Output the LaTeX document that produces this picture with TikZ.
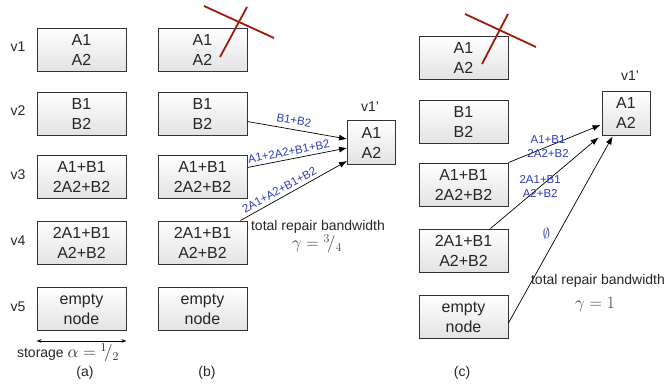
\documentclass[tikz,border=0pt]{standalone}
\usepackage[no-math]{fontspec}
\setmainfont{Liberation Sans}
\usetikzlibrary{calc,arrows.meta}
\definecolor{edgeblue}{HTML}{2B3DB5}
\definecolor{crossred}{HTML}{9E1B0C}
\definecolor{boxline}{HTML}{333333}
\tikzset{
  box/.style={draw=boxline, line width=0.9pt, top color=white, bottom color=black!11,
    minimum width=89pt, minimum height=43pt, inner sep=0pt, align=center,
    font=\fontsize{16}{20}\selectfont, text=black!85},
  newbox/.style={box, minimum width=48pt, minimum height=44pt},
  vlabel/.style={font=\fontsize{14}{16}\selectfont, text=black!85},
  elabel/.style={font=\fontsize{11.5}{14}\selectfont, text=edgeblue, inner sep=1pt},
  conn/.style={-{Latex[length=8pt,width=6pt]}, line width=0.7pt},
  crossline/.style={draw=crossred, line width=1.8pt},
  caption/.style={font=\fontsize{14}{16}\selectfont, text=black!85},
  mathbig/.style={font=\fontsize{17.28}{20}\selectfont, text=black!75},
}
\begin{document}
\begin{tikzpicture}[x=1pt,y=-1pt]
\useasboundingbox (0,0) rectangle (668,385);

% column (a)
\node[box] (v1a) at (81.5,49.5) {A1\\A2};
\node[box] (v2a) at (81.5,113.5) {B1\\B2};
\node[box] (v3a) at (81.5,176.5) {A1+B1\\2A2+B2};
\node[box] (v4a) at (81.5,242.5) {2A1+B1\\A2+B2};
\node[box] (v5a) at (81.5,309) {empty\\node};
\node[vlabel] (l1) at (18,47) {v1};
\node[vlabel] (l2) at (18,111) {v2};
\node[vlabel] (l3) at (18,175) {v3};
\node[vlabel] (l4) at (18,241) {v4};
\node[vlabel] (l5) at (18,307) {v5};
\coordinate (sa) at ($(v5a.south west)+(0,10)$);
\coordinate (sb) at ($(v5a.south east)+(0,10)$);
\draw[{Stealth[length=5pt,width=3.5pt]}-{Stealth[length=5pt,width=3.5pt]}, line width=0.5pt] (sa) -- (sb);
\node[caption] (stor) at (68,353) {storage \fontsize{17.28}{20}\selectfont$\alpha = {}^{1}\!/{}_{2}$};
\node[caption] (capa) at (85,373) {(a)};

% column (b)
\node[box] (v1b) at (202.5,49.5) {A1\\A2};
\node[box] (v2b) at (202.5,113.5) {B1\\B2};
\node[box] (v3b) at (202.5,176.5) {A1+B1\\2A2+B2};
\node[box] (v4b) at (202.5,242.5) {2A1+B1\\A2+B2};
\node[box] (v5b) at (202.5,309) {empty\\node};
\draw[crossline] (204,6) -- (274,38);
\draw[crossline] (247,7) -- (220,57);
\node[newbox] (nb) at (371.5,142.5) {A1\\A2};
\node[vlabel] (nbl) at (370,107) {v1'};
\coordinate (b2s) at ($(v2b.east)+(0,8)$);
\coordinate (b3s) at ($(v3b.east)+(0,-9)$);
\coordinate (b4s) at ($(v4b.north east)+(-7,0)$);
\coordinate (b2t) at ($(nb.west)+(0,-3.5)$);
\coordinate (b3t) at ($(nb.west)+(0,5.5)$);
\coordinate (b4t) at ($(nb.south west)+(0,-4)$);
\draw[conn] (b2s) -- node[elabel, sloped, above=4pt, pos=0.45] {B1+B2} (b2t);
\draw[conn] (b3s) -- node[elabel, sloped, above=2.5pt, pos=0.43] {A1+2A2+B1+B2} (b3t);
\draw[conn] (b4s) -- node[elabel, sloped, above=2.5pt, pos=0.4] {2A1+A2+B1+B2} (b4t);
\node[caption] (trb) at (318,227) {total repair bandwidth};
\node[mathbig] (gb) at (317,244) {$\gamma = {}^{3}\!/{}_{4}$};
\node[caption] (capb) at (207,373) {(b)};

% column (c)
\node[box] (v1c) at (463.5,57.5) {A1\\A2};
\node[box] (v2c) at (463.5,121.5) {B1\\B2};
\node[box] (v3c) at (463.5,184.5) {A1+B1\\2A2+B2};
\node[box] (v4c) at (463.5,250.5) {2A1+B1\\A2+B2};
\node[box] (v5c) at (463.5,317) {empty\\node};
\draw[crossline] (465,14) -- (536,47);
\draw[crossline] (508,14) -- (482,64);
\node[newbox] (nc) at (626,113) {A1\\A2};
\node[vlabel] (ncl) at (630,76) {v1'};
\coordinate (c3s) at (v3c.north east);
\coordinate (c4s) at ($(v4c.north east)+(-18,0)$);
\coordinate (c5s) at ($(v5c.east)+(0,6)$);
\coordinate (c3t) at ($(nc.west)+(-1,12)$);
\coordinate (c4t) at ($(nc.south west)+(-3,2)$);
\coordinate (c5t) at ($(nc.south west)+(11,1)$);
\draw[conn] (c3s) -- node[elabel, align=center, pos=0.43] {A1+B1\\2A2+B2} (c3t);
\draw[conn] (c4s) -- node[elabel, align=center, pos=0.46] {2A1+B1\\A2+B2} (c4t);
\draw[conn] (c5s) -- node[elabel, pos=0.48, left=7pt, font=\fontsize{14}{16}\selectfont] {$\emptyset$} (c5t);
\node[caption] (trc) at (598,281) {total repair bandwidth};
\node[mathbig] (gc) at (595,305) {$\gamma = 1$};
\node[caption] (capc) at (462,373) {(c)};
\end{tikzpicture}
\end{document}
